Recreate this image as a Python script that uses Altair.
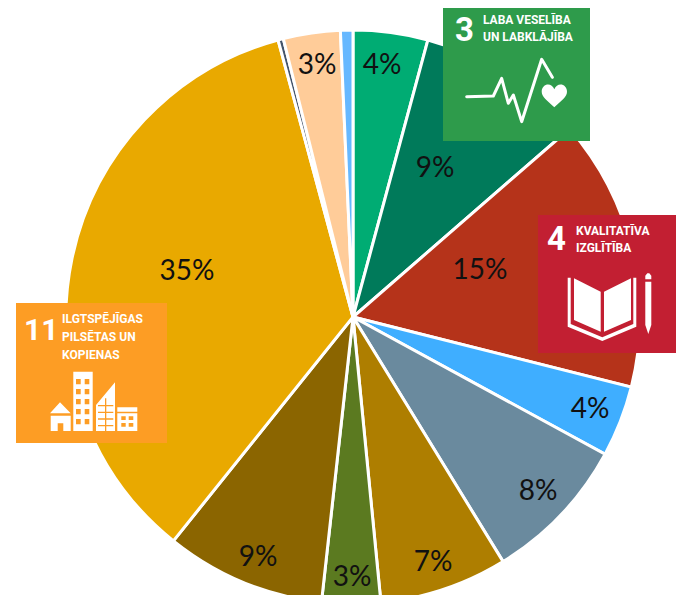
import altair as alt
import pandas as pd

# Pie data (clockwise from 12 o'clock)
values = [4.2, 9.4, 15.3, 4.0, 8.3, 7.2, 3.3, 9.0, 35.0, 0.3, 3.2, 0.7]
colors = ["#00AC73", "#007A5A", "#B5331A", "#3FAEFF", "#6A8A9E", "#AE7E00",
          "#5B7A20", "#8B6500", "#E9A900", "#44546A", "#FFCC99", "#66B8FF"]
labels = ["4%", "9%", "15%", "4%", "8%", "7%", "3%", "9%", "35%", "3%"]
label_x = [382, 435, 480, 590, 538, 433, 352, 258, 187, 317]
label_y = [66, 169, 271, 410, 492, 563, 578, 558, 272, 66]

MARGIN = 8
W, H = 684 - 2 * MARGIN, 603 - 2 * MARGIN
CX, CY, R = 353 - MARGIN, 317 - MARGIN, 287

pie_df = pd.DataFrame({"order": range(len(values)), "value": values, "color": colors})
pie = alt.Chart(pie_df).mark_arc(radius=R, stroke="white", strokeWidth=3).encode(
    theta=alt.Theta("value:Q", stack=True),
    order=alt.Order("order:Q"),
    color=alt.Color("color:N", scale=None),
    x=alt.value(CX),
    y=alt.value(CY),
)

lab_df = pd.DataFrame({"t": labels, "x": [v - MARGIN for v in label_x], "y": [v - MARGIN for v in label_y]})
label_layer = alt.Chart(lab_df).mark_text(font="Lato", fontSize=28, color="#111111").encode(
    x=alt.X("x:Q", scale=None, axis=None),
    y=alt.Y("y:Q", scale=None, axis=None),
    text="t:N",
)

# Tiles
tile_x = [443, 538, 16]
tile_x2 = [590, 684, 167]
tile_y = [3, 215, 303]
tile_y2 = [141, 353, 443]
tile_fill = ["#2E9B4B", "#C21F32", "#FD9D24"]
tile_df = pd.DataFrame({
    "x": [v - MARGIN for v in tile_x], "x2": [v - MARGIN for v in tile_x2],
    "y": [v - MARGIN for v in tile_y], "y2": [v - MARGIN for v in tile_y2],
    "c": tile_fill,
})
tiles = alt.Chart(tile_df).mark_rect().encode(
    x=alt.X("x:Q", scale=None, axis=None), x2="x2:Q",
    y=alt.Y("y:Q", scale=None, axis=None), y2="y2:Q",
    color=alt.Color("c:N", scale=None),
)


def text_layer(lines, xs, ys, size):
    df = pd.DataFrame({"t": lines, "x": [v - MARGIN for v in xs], "y": [v - MARGIN for v in ys]})
    return alt.Chart(df).mark_text(
        font="Roboto", fontWeight="bold", fontSize=size, color="white", align="left"
    ).encode(
        x=alt.X("x:Q", scale=None, axis=None),
        y=alt.Y("y:Q", scale=None, axis=None),
        text="t:N",
    )


tile_text = [
    text_layer(["LABA VESELĪBA", "UN LABKLĀJĪBA"], [483, 483], [20, 37], 12),
    text_layer(["KVALITATĪVA", "IZGLĪTĪBA"], [576, 576], [231, 248], 12),
    text_layer(["ILGTSPĒJĪGAS", "PILSĒTAS UN", "KOPIENAS"], [62, 62, 62], [319, 337, 355], 12),
    text_layer(["3"], [455], [31], 33),
    text_layer(["4"], [547], [240], 33),
    text_layer(["11"], [24], [331], 30),
]


def crop_poly(points, ox, oy):
    pts = [(ox + a / 3, oy + b / 3) for a, b in points]
    return "M" + " L".join(f"{a:.1f} {b:.1f}" for a, b in pts) + " Z "


def crop_rect(x0, y0, x1, y1, ox, oy):
    return crop_poly([(x0, y0), (x1, y0), (x1, y1), (x0, y1)], ox, oy)


def icon(path, fill="white"):
    # size 4 makes the symbol's path units equal to pixels
    return alt.Chart(pd.DataFrame({"a": [0]})).mark_point(
        shape=path, size=4, filled=True, fill=fill, opacity=1
    ).encode(x=alt.value(-MARGIN), y=alt.value(-MARGIN))


# Book and pencil
ox, oy = 530, 210
book = "".join([
    crop_poly([(132, 205), (212, 245), (212, 365), (132, 330)], ox, oy),
    crop_poly([(222, 245), (303, 205), (303, 330), (222, 365)], ox, oy),
    crop_poly([(113, 203), (122, 203), (122, 342), (217, 382), (310, 342), (310, 203), (319, 203),
               (319, 350), (217, 393), (113, 350)], ox, oy),
    crop_poly([(346, 215), (364, 215), (364, 345), (355, 372), (346, 345)], ox, oy),
    crop_poly([(346, 197), (352, 190), (358, 190), (364, 197), (364, 208), (346, 208)], ox, oy),
])

# Buildings
ox, oy = 10, 295
town = "".join([
    crop_poly([(120, 355), (150, 322), (182, 355)], ox, oy),
    crop_rect(122, 362, 182, 408, ox, oy),
    crop_rect(190, 230, 248, 408, ox, oy),
    crop_poly([(258, 330), (315, 262), (315, 408), (258, 408)], ox, oy),
    crop_rect(322, 337, 382, 350, ox, oy),
    crop_rect(322, 355, 382, 408, ox, oy),
])
holes = [crop_rect(143, 385, 160, 408, ox, oy)]
for yy in (252, 282, 312, 342, 372):
    holes.append(crop_rect(198, yy, 212, yy + 16, ox, oy))
    holes.append(crop_rect(224, yy, 238, yy + 16, ox, oy))
for yy in (330, 350, 370, 390):
    holes.append(crop_rect(264, yy, 310, yy + 4, ox, oy))
holes.append(crop_rect(285, 310, 289, 408, ox, oy))
for yy in (364, 384):
    holes.append(crop_rect(334, yy, 347, yy + 11, ox, oy))
    holes.append(crop_rect(356, yy, 370, yy + 11, ox, oy))
town_holes = "".join(holes)

# Heart
ox, oy = 440, 0
heart = (
    f"M{ox + 343 / 3:.1f} {oy + 322 / 3:.1f} "
    f"C{ox + 320 / 3:.1f} {oy + 300 / 3:.1f} {ox + 305 / 3:.1f} {oy + 290 / 3:.1f} {ox + 305 / 3:.1f} {oy + 275 / 3:.1f} "
    f"C{ox + 305 / 3:.1f} {oy + 250 / 3:.1f} {ox + 335 / 3:.1f} {oy + 245 / 3:.1f} {ox + 343 / 3:.1f} {oy + 268 / 3:.1f} "
    f"C{ox + 351 / 3:.1f} {oy + 245 / 3:.1f} {ox + 381 / 3:.1f} {oy + 250 / 3:.1f} {ox + 381 / 3:.1f} {oy + 275 / 3:.1f} "
    f"C{ox + 381 / 3:.1f} {oy + 290 / 3:.1f} {ox + 366 / 3:.1f} {oy + 300 / 3:.1f} {ox + 343 / 3:.1f} {oy + 322 / 3:.1f} Z"
)

# ECG trace
ecg_cx = [80, 160, 185, 205, 220, 245, 305, 337]
ecg_cy = [290, 288, 235, 310, 285, 365, 178, 232]
ecg_df = pd.DataFrame({
    "i": range(len(ecg_cx)),
    "x": [ox + v / 3 - MARGIN for v in ecg_cx],
    "y": [oy + v / 3 - MARGIN for v in ecg_cy],
})
ecg = alt.Chart(ecg_df).mark_line(color="white", strokeWidth=3, strokeJoin="round", strokeCap="round").encode(
    x=alt.X("x:Q", scale=None, axis=None),
    y=alt.Y("y:Q", scale=None, axis=None),
    order="i:Q",
)

chart = alt.layer(
    pie, label_layer, tiles, *tile_text, ecg,
    icon(heart), icon(book), icon(town), icon(town_holes, fill="#FD9D24"),
).properties(
    width=W, height=H, padding=0,
    autosize=alt.AutoSizeParams(type="none"),
).configure_view(stroke=None)

chart.save("out.html", embed_options={"renderer": "svg", "actions": False})
